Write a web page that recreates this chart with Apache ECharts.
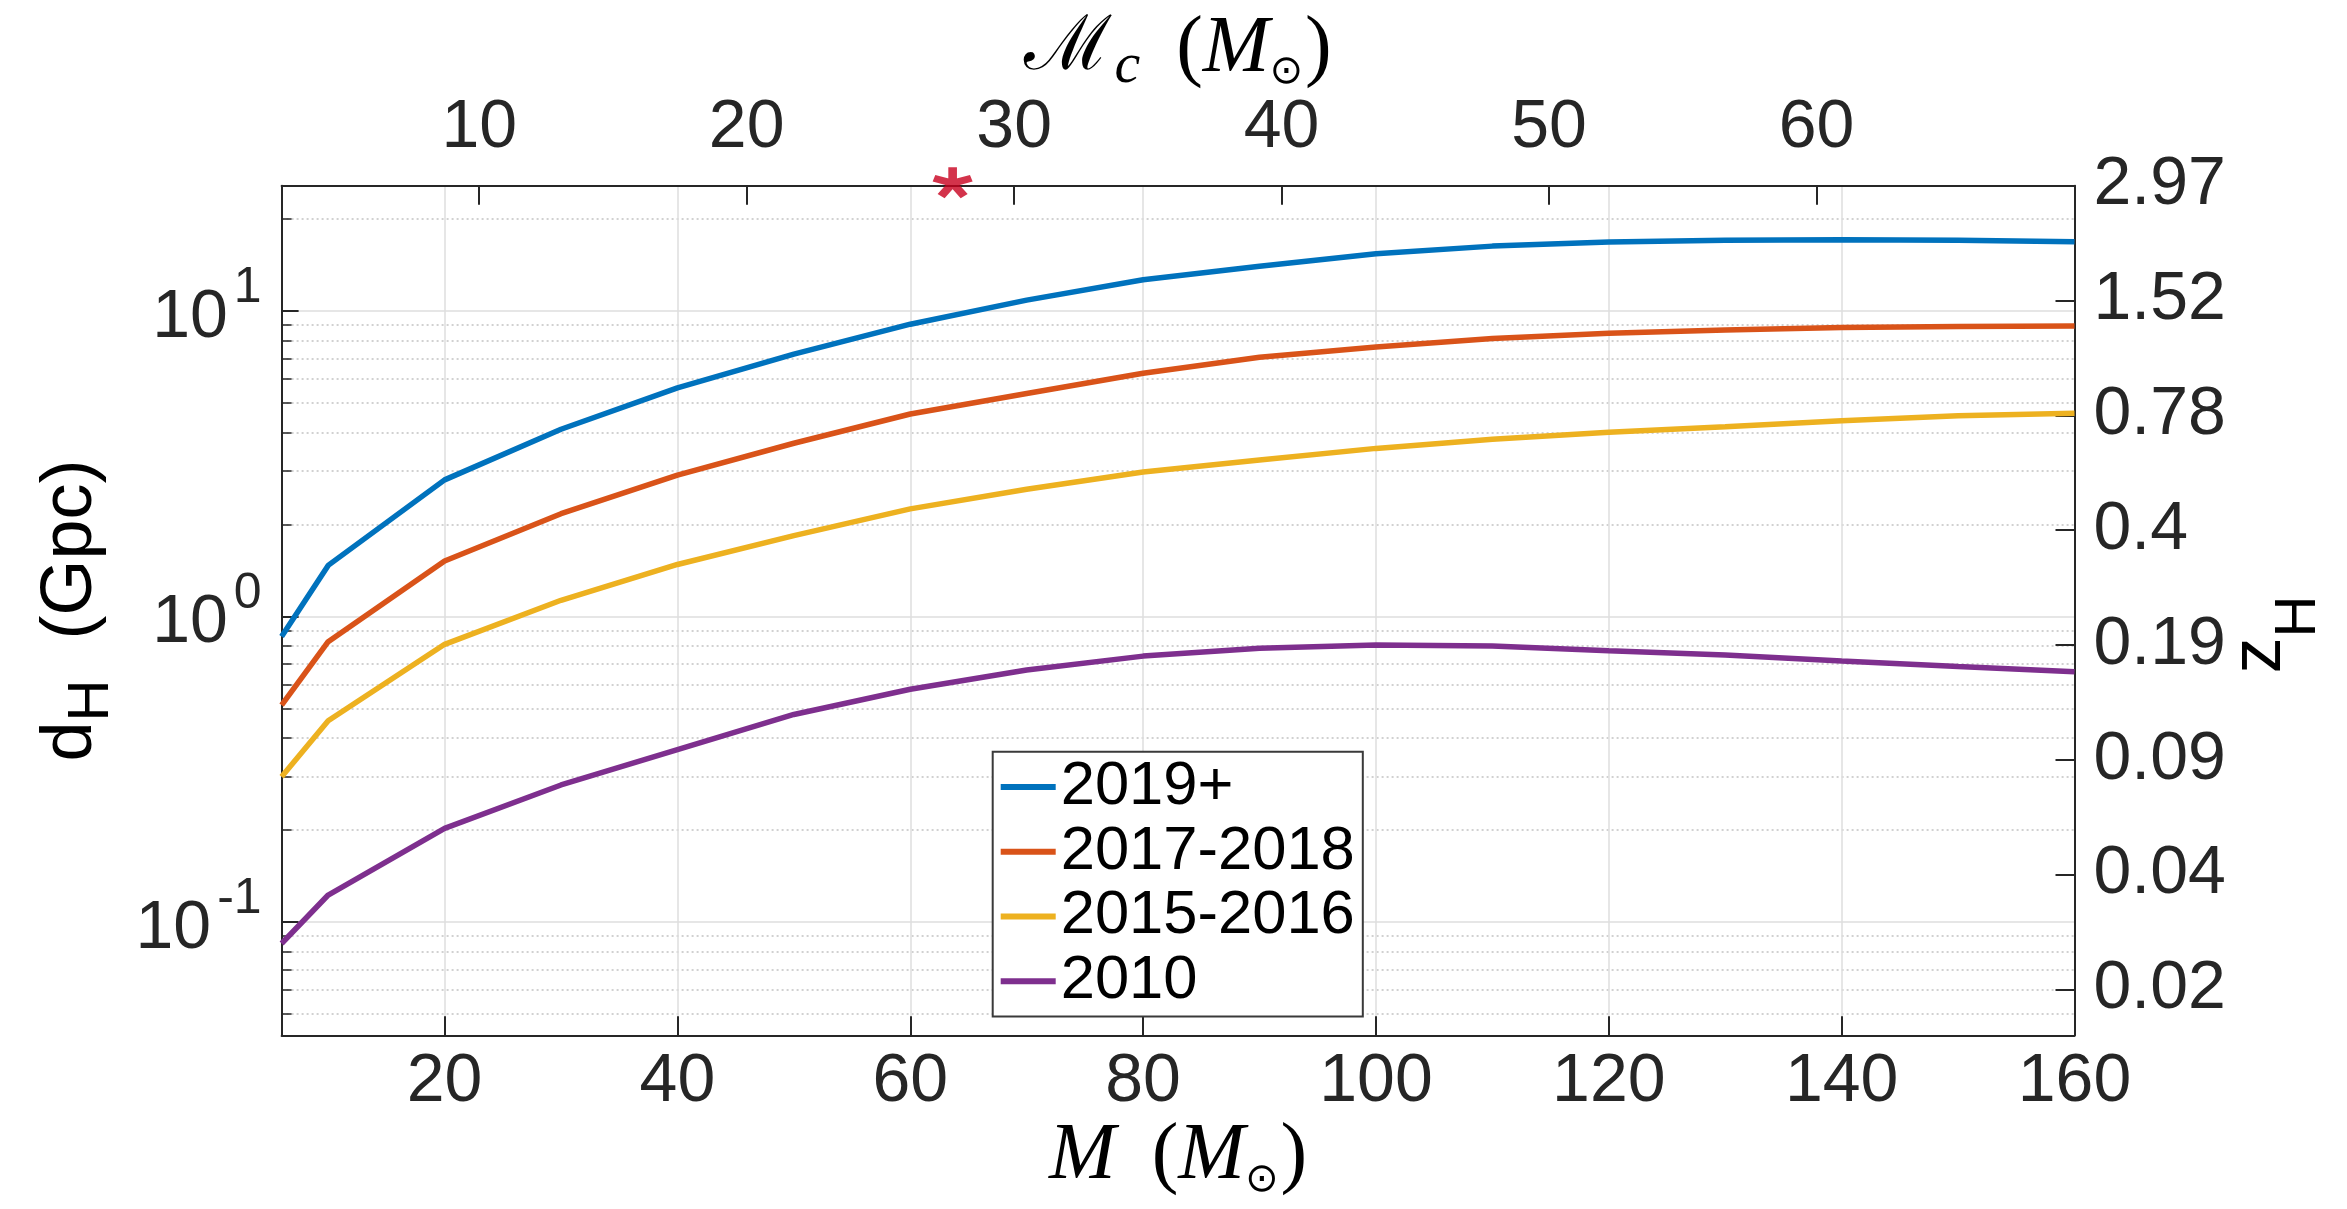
<!DOCTYPE html>
<html>
<head>
<meta charset="utf-8">
<script src="https://cdn.jsdelivr.net/npm/echarts@6/dist/echarts.min.js"></script>
<style>
  html, body { margin: 0; padding: 0; background: #ffffff; }
  #chart { width: 2347px; height: 1209px; }
</style>
</head>
<body>
<div id="chart"></div>
<script>
// Total binary mass M (solar masses) at which the horizon was evaluated
const totalMass = [6, 10, 20, 30, 40, 50, 60, 70, 80, 90, 100, 110, 120, 130, 140, 150, 160];

// Horizon distance d_H (Gpc) for each detector epoch
const horizon2019 = [0.86, 1.47, 2.80, 4.10, 5.60, 7.22, 9.05, 10.85, 12.65, 14.0, 15.4, 16.3, 16.8, 17.05, 17.1, 17.05, 16.85];
const horizon2017 = [0.513, 0.827, 1.52, 2.17, 2.90, 3.69, 4.60, 5.37, 6.25, 7.05, 7.62, 8.12, 8.45, 8.67, 8.82, 8.89, 8.93];
const horizon2015 = [0.299, 0.456, 0.811, 1.13, 1.48, 1.84, 2.25, 2.61, 2.97, 3.25, 3.55, 3.80, 4.01, 4.18, 4.37, 4.54, 4.63];
const horizon2010 = [0.0851, 0.1226, 0.2027, 0.281, 0.367, 0.478, 0.578, 0.668, 0.742, 0.787, 0.807, 0.800, 0.773, 0.748, 0.715, 0.686, 0.660];

const seriesNames = ['2019+', '2017-2018', '2015-2016', '2010'];
const seriesColors = ['#0072BD', '#D95319', '#EDB120', '#7E2F8E'];

// Chirp mass of the highlighted event (solar masses)
const eventChirpMass = [27.7];

// Tick labels
const massTicks = [20, 40, 60, 80, 100, 120, 140, 160];
const chirpTicks = [10, 20, 30, 40, 50, 60];
const decadeTicks = [0.1, 1, 10];
const redshiftLabels = ['2.97', '1.52', '0.78', '0.4', '0.19', '0.09', '0.04', '0.02'];

// Axis extents
const massMin = 6, massMax = 160;
const distMin = 0.0426, distMax = 25.7;
// equal-mass binaries: chirp mass = M * (1/4)^(3/5)
const chirpFactor = Math.pow(0.25, 0.6);
// redshift ticks are evenly spaced on the log distance scale (decades per tick)
const redshiftStep = 0.3758;
const redshiftSpan = Math.log10(distMax / distMin) / redshiftStep;

// minor log ticks: 2..9 x 10^k inside the distance range
const minorTicks = [];
for (let k = -2; k <= 1; k++) {
  for (let j = 2; j <= 9; j++) {
    const v = j * Math.pow(10, k);
    if (v > distMin && v < distMax) minorTicks.push(v);
  }
}

// five-armed asterisk marker
function asteriskPath() {
  const L = 10, w = 4.4, s = -w * 0.3;
  let d = '';
  for (let i = 0; i < 5; i++) {
    const a = (-90 + 72 * i) * Math.PI / 180;
    const dx = Math.cos(a), dy = Math.sin(a), nx = -dy, ny = dx;
    const pts = [
      [s * dx + nx * w / 2, s * dy + ny * w / 2],
      [L * dx + nx * w / 2, L * dy + ny * w / 2],
      [L * dx - nx * w / 2, L * dy - ny * w / 2],
      [s * dx - nx * w / 2, s * dy - ny * w / 2]
    ];
    d += 'M' + pts.map(p => p[0].toFixed(3) + ' ' + p[1].toFixed(3)).join('L') + 'Z';
  }
  return 'path://' + d;
}

const sans = 'Liberation Sans';
const serif = 'Liberation Serif';
const axisColor = '#262626';
const tickFont = 68;
const axisLineStyle = { color: axisColor, width: 2 };

const horizonSets = [horizon2019, horizon2017, horizon2015, horizon2010];

const lineSeries = horizonSets.map((vals, i) => ({
  name: seriesNames[i],
  type: 'line',
  xAxisIndex: 0,
  yAxisIndex: 0,
  data: totalMass.map((m, j) => [m, vals[j]]),
  symbol: 'none',
  showSymbol: false,
  color: seriesColors[i],
  itemStyle: { color: seriesColors[i] },
  lineStyle: { color: seriesColors[i], width: 5.5 },
  z: 3,
  silent: true
}));

const chart = echarts.init(document.getElementById('chart'), null, { renderer: 'canvas' });

chart.setOption({
  animation: false,
  backgroundColor: '#ffffff',
  grid: { left: 281.6, right: 272.5, top: 185.7, bottom: 173.7, containLabel: false, outerBoundsMode: 'none' },
  legend: {
    data: seriesNames,
    orient: 'vertical',
    left: 992.7,
    top: 751.7,
    backgroundColor: '#ffffff',
    borderColor: '#3a3a3a',
    borderWidth: 2,
    borderRadius: 0,
    padding: [3, 8, 3, 8],
    itemGap: 0,
    itemWidth: 55,
    itemHeight: 6,
    icon: 'rect',
    selectedMode: false,
    textStyle: { fontSize: 61.5, fontFamily: sans, color: '#000000', lineHeight: 64.7 }
  },
  xAxis: [
    {
      type: 'value',
      position: 'bottom',
      min: massMin,
      max: massMax,
      axisLine: { show: true, onZero: false, lineStyle: axisLineStyle },
      axisTick: { show: true, inside: true, length: 19, customValues: massTicks, lineStyle: axisLineStyle },
      axisLabel: { customValues: massTicks, fontSize: tickFont, fontFamily: sans, color: axisColor, margin: 13, lineHeight: 68 },
      splitLine: { show: true, lineStyle: { color: '#DEDEDE', width: 1.5 } },
      name: '{m|M}{sp| }{p|(}{m|M}{s|⊙}{p|)}',
      nameLocation: 'middle',
      nameGap: 82,
      nameMoveOverlap: false,
      nameTextStyle: {
        rich: {
          m: { fontFamily: serif, fontStyle: 'italic', fontSize: 80, lineHeight: 80, color: '#000' },
          p: { fontFamily: serif, fontSize: 80, lineHeight: 80, color: '#000' },
          sp: { fontSize: 80, lineHeight: 80, width: 36 },
          s: { fontFamily: 'DejaVu Sans', fontSize: 40, lineHeight: 40, padding: [46, 2, 0, 0], color: '#000' }
        }
      }
    },
    {
      type: 'value',
      position: 'top',
      min: massMin * chirpFactor,
      max: massMax * chirpFactor,
      axisLine: { show: true, onZero: false, lineStyle: axisLineStyle },
      axisTick: { show: true, inside: true, length: 19, customValues: chirpTicks, lineStyle: axisLineStyle },
      axisLabel: { customValues: chirpTicks, fontSize: tickFont, fontFamily: sans, color: axisColor, margin: 23, lineHeight: 68 },
      splitLine: { show: false },
      name: '{sm|ℳ}{c|c}{sp| }{p|(}{m|M}{s|⊙}{p|)}',
      nameLocation: 'middle',
      nameGap: 96,
      nameMoveOverlap: false,
      nameTextStyle: {
        rich: {
          sm: { fontFamily: 'DejaVu Serif', fontSize: 76, lineHeight: 80, color: '#000' },
          c: { fontFamily: serif, fontStyle: 'italic', fontSize: 58, lineHeight: 58, padding: [34, 0, 0, 2], color: '#000' },
          m: { fontFamily: serif, fontStyle: 'italic', fontSize: 80, lineHeight: 80, color: '#000' },
          p: { fontFamily: serif, fontSize: 80, lineHeight: 80, color: '#000' },
          sp: { fontSize: 80, lineHeight: 80, width: 36 },
          s: { fontFamily: 'DejaVu Sans', fontSize: 40, lineHeight: 40, padding: [46, 2, 0, 0], color: '#000' }
        }
      }
    }
  ],
  yAxis: [
    {
      type: 'log',
      logBase: 10,
      position: 'left',
      min: distMin,
      max: distMax,
      axisLine: { show: true, onZero: false, lineStyle: axisLineStyle },
      axisTick: { show: true, inside: true, length: 17, customValues: decadeTicks, lineStyle: axisLineStyle },
      axisLabel: {
        customValues: decadeTicks,
        margin: 20,
        formatter: v => '{b|10}{e|' + Math.round(Math.log10(v)) + '}',
        rich: {
          b: { fontFamily: sans, fontSize: tickFont, lineHeight: 68, padding: [14, 0, 0, 0], color: axisColor },
          e: { fontFamily: sans, fontSize: 50, lineHeight: 50, padding: [0, 0, 45, 6], color: axisColor }
        }
      },
      splitLine: { show: true, lineStyle: { color: '#DEDEDE', width: 1.5 } },
      name: '{d|d}{h|H}{g|  (Gpc)}',
      nameLocation: 'middle',
      nameRotate: 90,
      nameGap: 174,
      nameMoveOverlap: false,
      nameTextStyle: {
        rich: {
          d: { fontFamily: sans, fontSize: 72, lineHeight: 72, color: '#000' },
          g: { fontFamily: sans, fontSize: 72, lineHeight: 72, color: '#000' },
          h: { fontFamily: sans, fontSize: 58, lineHeight: 58, padding: [40, 0, 0, 0], color: '#000' }
        }
      }
    },
    {
      // minor decade ticks and dotted grid
      type: 'log',
      logBase: 10,
      position: 'left',
      min: distMin,
      max: distMax,
      axisLine: { show: false },
      axisLabel: { show: false },
      axisTick: { show: true, inside: true, length: 10, customValues: minorTicks, lineStyle: { color: axisColor, width: 1.5 } },
      splitLine: { show: true, lineStyle: { color: '#C2C2C2', width: 1.5, type: [2, 3] } }
    },
    {
      // redshift scale matching the horizon distance
      type: 'value',
      position: 'right',
      inverse: true,
      min: 0,
      max: redshiftSpan,
      axisLine: { show: true, onZero: false, lineStyle: axisLineStyle },
      axisTick: { show: true, inside: true, length: 19, customValues: redshiftLabels.map((_, i) => i), lineStyle: axisLineStyle },
      axisLabel: {
        customValues: redshiftLabels.map((_, i) => i),
        formatter: v => redshiftLabels[Math.round(v)] || '',
        fontSize: tickFont, fontFamily: sans, color: axisColor, margin: 19
      },
      splitLine: { show: false },
      name: '{z|z}{h|H}',
      nameLocation: 'middle',
      nameRotate: 90,
      nameGap: 150,
      nameMoveOverlap: false,
      nameTextStyle: {
        padding: [0, 48, 0, 0],
        rich: {
          z: { fontFamily: sans, fontSize: 72, lineHeight: 72, color: '#000' },
          h: { fontFamily: sans, fontSize: 58, lineHeight: 58, padding: [76, 0, 0, 0], color: '#000' }
        }
      }
    }
  ],
  series: lineSeries.concat([
    {
      name: 'event',
      type: 'scatter',
      xAxisIndex: 1,
      yAxisIndex: 0,
      data: eventChirpMass.map(mc => [mc, distMax]),
      symbol: asteriskPath(),
      symbolSize: [40, 31],
      symbolOffset: [0, -3],
      itemStyle: { color: '#C8001E' },
      clip: false,
      silent: true,
      z: 10
    }
  ])
});
</script>
</body>
</html>
